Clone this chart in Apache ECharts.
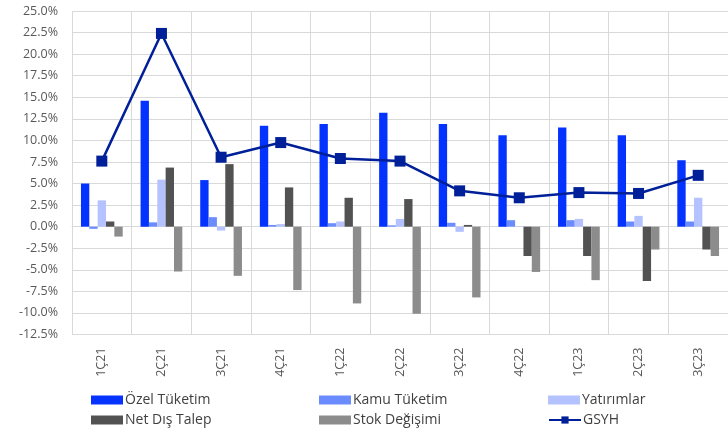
<!DOCTYPE html>
<html>
<head>
<meta charset="utf-8">
<script src="https://cdn.jsdelivr.net/npm/echarts@6/dist/echarts.min.js"></script>
<style>
  html, body { margin: 0; padding: 0; background: #fff; }
  #chart { width: 728px; height: 434px; }
</style>
</head>
<body>
<div id="chart"></div>
<script>
// çeyrekler
var quarters = ['1Ç21', '2Ç21', '3Ç21', '4Ç21', '1Ç22', '2Ç22', '3Ç22', '4Ç22', '1Ç23', '2Ç23', '3Ç23']
// büyümeye katkılar (%)
var ozelTuketim = [5.0, 14.6, 5.4, 11.7, 11.9, 13.2, 11.9, 10.6, 11.5, 10.6, 7.7]
var kamuTuketim = [-0.25, 0.5, 1.1, 0.2, 0.4, 0.15, 0.45, 0.75, 0.75, 0.6, 0.6]
var yatirimlar = [3.05, 5.45, -0.45, 0.3, 0.6, 0.9, -0.6, 0.05, 0.9, 1.25, 3.35]
var netDisTalep = [0.6, 6.85, 7.25, 4.55, 3.35, 3.2, 0.2, -3.4, -3.4, -6.3, -2.65]
var stokDegisimi = [-1.15, -5.2, -5.7, -7.35, -8.9, -10.1, -8.2, -5.25, -6.2, -2.65, -3.4]
var gsyh = [7.6, 22.4, 8.05, 9.75, 7.9, 7.6, 4.15, 3.35, 3.95, 3.85, 5.95]

var chart = echarts.init(document.getElementById('chart'))

var font = '"Open Sans", "Noto Sans", sans-serif'

function bar(name, data, color) {
  return {
    name: name,
    type: 'bar',
    data: data,
    barGap: '0%',
    barCategoryGap: '30%',
    itemStyle: { color: color }
  }
}

// her lejant öğesi kendi yerinde (3 sütun x 2 satır)
function legendItem(left, top, name, icon) {
  var item = { name: name }
  if (icon) item.icon = icon
  return {
    left: left,
    top: top,
    itemWidth: 32,
    itemHeight: 9,
    data: [item],
    textStyle: { fontFamily: font, fontSize: 14, color: '#404040', padding: [0, 0, 0, -3] }
  }
}

var option = {
  animation: false,
  backgroundColor: '#fff',
  grid: { left: 72, right: -4, top: 11, bottom: 99.5 },
  legend: [
    legendItem(86, 388, 'Özel Tüketim', 'rect'),
    legendItem(86, 408, 'Net Dış Talep', 'rect'),
    legendItem(314, 388, 'Kamu Tüketim', 'rect'),
    legendItem(314, 408, 'Stok Değişimi', 'rect'),
    legendItem(543, 388, 'Yatırımlar', 'rect'),
    legendItem(543, 408, 'GSYH')
  ],
  xAxis: {
    type: 'category',
    data: quarters,
    axisLine: { show: true, lineStyle: { color: '#d9d9d9' } },
    axisTick: { show: false },
    splitLine: { show: true, lineStyle: { color: '#d9d9d9', width: 1 } },
    axisLabel: { rotate: 90, margin: 13, fontFamily: font, fontSize: 12.5, color: '#595959' }
  },
  yAxis: {
    type: 'value',
    min: -12.5,
    max: 25,
    interval: 2.5,
    axisLine: { show: false },
    axisTick: { show: false },
    splitLine: { lineStyle: { color: '#d9d9d9', width: 1 } },
    axisLabel: {
      margin: 14,
      fontFamily: font,
      fontSize: 12.5,
      color: '#595959',
      formatter: function (v) { return v.toFixed(1) + '%' }
    }
  },
  series: [
    bar('Özel Tüketim', ozelTuketim, '#0433ff'),
    bar('Kamu Tüketim', kamuTuketim, '#6b8cff'),
    bar('Yatırımlar', yatirimlar, '#b4c3ff'),
    bar('Net Dış Talep', netDisTalep, '#525252'),
    bar('Stok Değişimi', stokDegisimi, '#8c8c8c'),
    {
      name: 'GSYH',
      type: 'line',
      data: gsyh,
      symbol: 'rect',
      symbolSize: 11,
      lineStyle: { color: '#00209a', width: 2.5 },
      itemStyle: { color: '#00209a' }
    }
  ]
}

chart.setOption(option)
</script>
</body>
</html>
